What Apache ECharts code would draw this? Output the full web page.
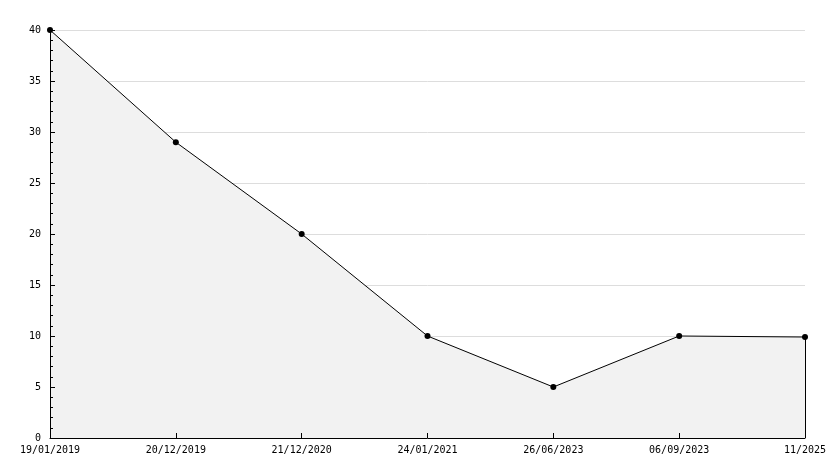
<!DOCTYPE html>
<html><head><meta charset="utf-8">
<script src="https://cdn.jsdelivr.net/npm/echarts@6/dist/echarts.min.js"></script>
<style>html,body{margin:0;padding:0;background:#fff}#c{width:834px;height:468px}</style>
</head><body><div id="c"></div>
<script>
const categories = ['19/01/2019','20/12/2019','21/12/2020','24/01/2021','26/06/2023','06/09/2023','11/2025'];
const values = [40, 29, 20, 10, 5, 10, 9.9];
const yTicks = {min: 0, max: 40, interval: 5};

const chart = echarts.init(document.getElementById('c'), null, {renderer: 'canvas'});
const font = {fontFamily: 'DejaVu Sans Mono', fontSize: 10, color: '#000'};
const lastIdx = categories.length - 1;
chart.setOption({
  animation: false,
  backgroundColor: '#fff',
  grid: {left: 50, right: 29, top: 30, bottom: 30, containLabel: false},
  xAxis: {
    type: 'category', data: categories, boundaryGap: false, z: 10,
    axisLine: {lineStyle: {color: '#000', width: 1}},
    axisTick: {show: true, inside: true, length: 5, lineStyle: {color: '#000'}},
    axisLabel: Object.assign({margin: 7, showMinLabel: true, showMaxLabel: true, interval: 0}, font),
    splitLine: {show: false}
  },
  yAxis: [{
    type: 'value', min: yTicks.min, max: yTicks.max, interval: yTicks.interval, z: 0,
    axisLine: {show: false}, axisTick: {show: false},
    axisLabel: Object.assign({margin: 9}, font),
    splitLine: {show: true, lineStyle: {color: '#dddddd', width: 1}}
  }, {
    type: 'value', position: 'left', min: yTicks.min, max: yTicks.max, interval: yTicks.interval, z: 10,
    axisLine: {show: true, onZero: false, lineStyle: {color: '#000', width: 1}},
    axisTick: {show: true, inside: true, length: 5, lineStyle: {color: '#000'}},
    minorTick: {show: true, splitNumber: 5, length: 3, lineStyle: {color: '#000'}},
    axisLabel: {show: false},
    splitLine: {show: false}
  }],
  series: [{
    type: 'line', data: values, yAxisIndex: 0,
    symbol: 'circle', symbolSize: 6,
    itemStyle: {color: '#000'},
    lineStyle: {color: '#000', width: 1},
    areaStyle: {color: '#f2f2f2', opacity: 1},
    z: 3,
    markLine: {
      silent: true, symbol: 'none', label: {show: false},
      lineStyle: {color: '#000', width: 1, type: 'solid'},
      data: [[{coord: [lastIdx, 0]}, {coord: [lastIdx, values[lastIdx]]}]]
    }
  }]
});
</script></body></html>
